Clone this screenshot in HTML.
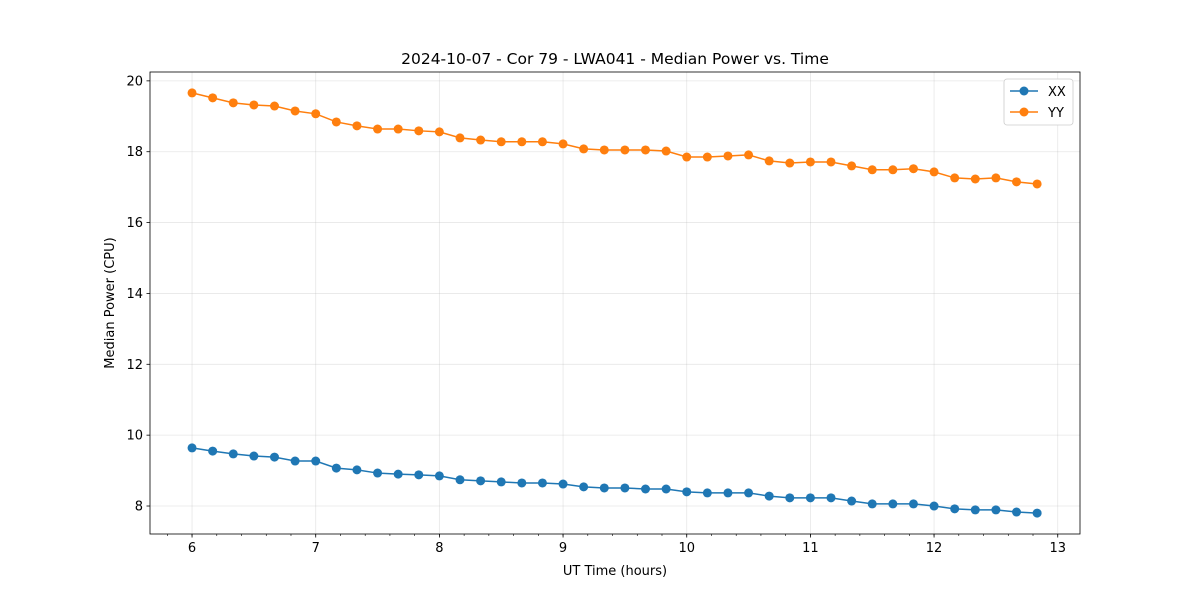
<!DOCTYPE html>
<html><head><meta charset="utf-8"><style>
body{margin:0;background:#fff;font-family:"Liberation Sans","DejaVu Sans",sans-serif}
</style></head><body>
<svg id="chart" width="1200" height="600" xmlns="http://www.w3.org/2000/svg" font-family="DejaVu Sans, Liberation Sans, sans-serif"></svg>
<script>
const times = [];
for (let i = 0; i < 42; i++) times.push(6 + i / 6);
const xxValues = [9.64,9.55,9.47,9.41,9.38,9.27,9.27,9.07,9.02,8.93,8.90,8.88,8.85,8.74,8.71,8.68,8.65,8.65,8.62,8.54,8.51,8.51,8.48,8.48,8.40,8.37,8.37,8.37,8.28,8.23,8.23,8.23,8.14,8.06,8.06,8.06,8.00,7.92,7.89,7.89,7.83,7.80];
const yyValues = [19.66,19.52,19.38,19.32,19.29,19.15,19.07,18.84,18.73,18.64,18.64,18.59,18.56,18.39,18.33,18.28,18.28,18.28,18.22,18.08,18.05,18.05,18.05,18.02,17.85,17.85,17.88,17.91,17.74,17.68,17.71,17.71,17.60,17.49,17.49,17.52,17.43,17.26,17.23,17.26,17.15,17.09];
const xTicks = [6,7,8,9,10,11,12,13];
const yTicks = [8,10,12,14,16,18,20];

const L=150,R=1080,T=72,B=534;
const xMin=5.66,xMax=13.18,yMin=7.21,yMax=20.25;
const sx=v=>L+(v-xMin)/(xMax-xMin)*(R-L);
const sy=v=>B-(v-yMin)/(yMax-yMin)*(B-T);
const svg=document.getElementById('chart');
const NS='http://www.w3.org/2000/svg';
function mk(tag,attrs,parent){const e=document.createElementNS(NS,tag);for(const k in attrs)e.setAttribute(k,attrs[k]);(parent||svg).appendChild(e);return e;}

// grid
xTicks.forEach(t=>{const l=mk('line',{x1:sx(t),x2:sx(t),y1:T,y2:B,stroke:'#b0b0b0','stroke-opacity':0.3,'stroke-width':0.8});

});
yTicks.forEach(t=>{const l=mk('line',{x1:L,x2:R,y1:sy(t),y2:sy(t),stroke:'#b0b0b0','stroke-opacity':0.3,'stroke-width':0.8});

});

// minor x ticks
for(let m=5.8;m<=13.1;m+=0.2){const l=mk('line',{x1:sx(m),x2:sx(m),y1:B,y2:B+2,stroke:'#000','stroke-width':0.6});

}
// major ticks & labels
xTicks.forEach(t=>{mk('line',{x1:sx(t),x2:sx(t),y1:B,y2:B+3.5,stroke:'#000','stroke-width':0.8});
const tx=mk('text',{x:sx(t),y:B+18,'text-anchor':'middle','font-size':13});tx.textContent=t;

});
yTicks.forEach(t=>{mk('line',{x1:L-3.5,x2:L,y1:sy(t),y2:sy(t),stroke:'#000','stroke-width':0.8});
const tx=mk('text',{x:L-7,y:sy(t)+4.5,'text-anchor':'end','font-size':13});tx.textContent=t;

});

// series
function series(vals,color,name){
  const g=mk('g',{});
  
  
  mk('polyline',{points:vals.map((v,i)=>sx(times[i])+','+sy(v)).join(' '),fill:'none',stroke:color,'stroke-width':1.5},g);
  vals.forEach((v,i)=>{const c=mk('circle',{cx:sx(times[i]),cy:sy(v),r:4.5,fill:color},g);
  
  });
}
series(xxValues,'#1f77b4','xx');
series(yyValues,'#ff7f0e','yy');

// frame
const fr=mk('rect',{x:L,y:T,width:R-L,height:B-T,fill:'none',stroke:'#000','stroke-width':0.8});



// titles
const ti=mk('text',{x:615,y:64,'text-anchor':'middle','font-size':15.5});ti.textContent='2024-10-07 - Cor 79 - LWA041 - Median Power vs. Time';


const xt=mk('text',{x:615,y:575,'text-anchor':'middle','font-size':13});xt.textContent='UT Time (hours)';


const yt=mk('text',{x:0,y:0,'text-anchor':'middle','font-size':13,transform:'translate(114,303) rotate(-90)'});yt.textContent='Median Power (CPU)';



// legend
const lg=mk('g',{});


mk('rect',{x:1004,y:79,width:69,height:46,rx:3,fill:'#fff',stroke:'#ccc','stroke-width':0.8},lg);
[['XX','#1f77b4',91],['YY','#ff7f0e',112]].forEach(([n,c,y])=>{
  const e=mk('g',{},lg);
  
  
  mk('line',{x1:1010,x2:1038,y1:y,y2:y,stroke:c,'stroke-width':1.5},e);
  mk('circle',{cx:1024,cy:y,r:4.5,fill:c},e);
  const t=mk('text',{x:1048,y:y+5,'font-size':13},e);t.textContent=n;
});
</script>
</body></html>
